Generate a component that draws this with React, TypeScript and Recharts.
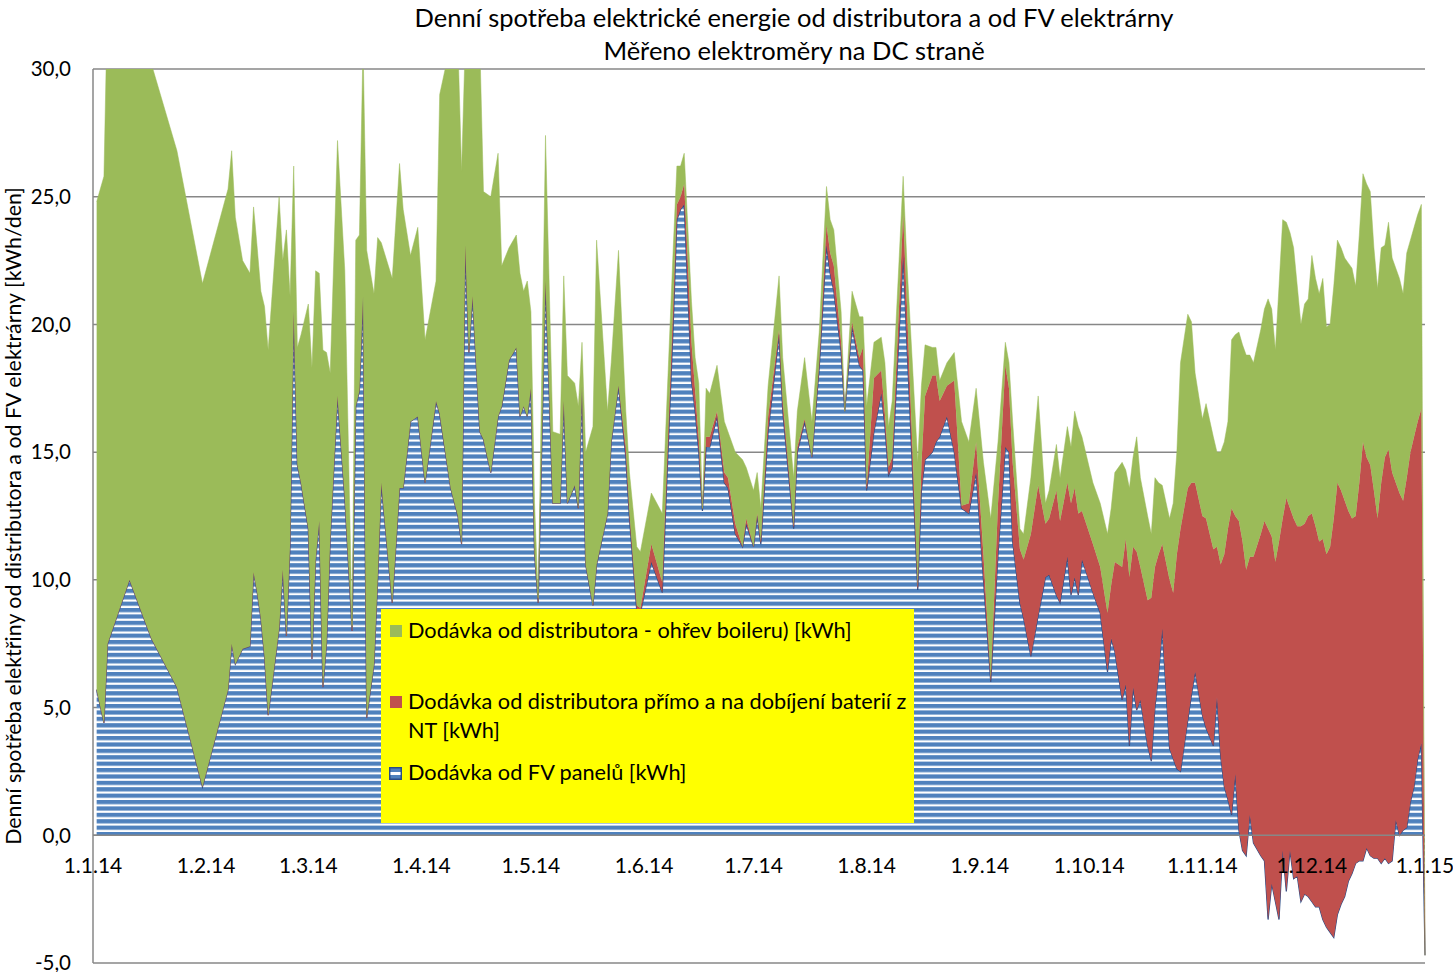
import { AreaChart, Area, XAxis, YAxis, CartesianGrid, ReferenceLine } from 'recharts'

// day index counted from 1.1.2014
const days = [
  1, 3, 4, 10, 16, 23, 30, 37, 38, 39, 41, 43, 44, 45, 46, 47, 48, 51, 52, 53, 54, 55, 56, 57, 59, 60, 61, 62, 63, 64, 65,
  67, 69, 71, 72, 73, 74, 75, 77, 78, 79,
  82, 84, 85, 87, 89, 91, 94, 95, 98, 100,
  101, 102, 103, 104, 106, 107, 109, 111, 112, 114,
  116, 117, 118, 119, 120, 121, 122, 124, 126, 128,
  129, 130, 132, 133, 134, 135, 137, 138, 141, 142,
  144, 146, 147, 149, 150, 153, 156, 159, 160, 161,
  162, 164, 165, 166, 167, 168, 169, 171, 173, 174,
  176, 178, 179, 181, 182, 183, 185, 188, 189, 192,
  193, 195, 197, 199, 201, 202, 203, 205, 206, 208,
  210, 211, 212, 214, 216, 217, 218, 219, 222, 223,
  226, 227, 228, 230, 231, 232, 234, 236, 238, 240,
  242, 244, 246, 248, 250, 251, 252,
  254, 255, 257, 259, 261, 262, 264, 265, 267, 268,
  269, 270, 271, 274, 276, 278, 279, 280, 282, 283,
  284, 285, 286, 287, 289, 290, 291, 292, 293, 295,
  296, 297, 298, 300, 301, 302, 304, 305, 307, 308,
  309, 310, 311, 312, 313, 314, 315, 316, 317, 318,
  320, 321, 322, 323, 324, 325, 326, 327, 328, 329,
  330, 331, 332, 333, 334, 335, 336, 337, 338, 339,
  340, 341, 342, 343, 344, 345, 346, 347, 348, 349,
  350, 351, 352, 353, 354, 355, 356, 357, 358, 359,
  360, 361, 362, 363, 364, 365,
]

// Dodávka od FV panelů [kWh]
const fvPanels = [
  5.7, 4.4, 7.5, 10.0, 7.7, 5.8, 1.9, 5.7, 7.5, 6.7, 7.3, 7.4, 10.3, 9.5, 8.5, 7.0, 4.7, 8.1, 10.4, 7.8, 11.4, 20.5, 14.5, 13.8, 12.0, 6.9, 10.8, 12.3, 5.8, 7.5, 11.6,
  17.2, 13.2, 8.0, 16.8, 17.4, 21.1, 4.6, 6.7, 10.0, 13.8,
  9.1, 13.6, 13.6, 16.2, 16.4, 13.8, 17.0, 16.5, 13.6, 12.5,
  11.4, 23.1, 18.9, 21.1, 15.8, 15.5, 14.2, 16.4, 16.8, 18.6,
  19.1, 16.4, 16.8, 16.4, 17.5, 11.0, 9.1, 21.7, 13.0, 13.0,
  17.0, 13.0, 13.7, 12.8, 17.6, 10.6, 9.0, 10.6, 12.6, 15.4,
  17.6, 14.8, 12.4, 8.8, 8.7, 10.7, 9.5, 20.0, 24.1, 24.5,
  24.7, 17.8, 16.6, 15.0, 12.7, 15.2, 15.2, 16.4, 13.8, 13.6,
  11.8, 11.3, 12.2, 11.3, 12.5, 11.4, 15.8, 19.6, 16.6, 12.0,
  15.0, 16.2, 14.8, 18.3, 23.1, 22.0, 21.3, 18.9, 16.6, 19.9,
  18.4, 18.2, 13.5, 15.8, 17.3, 16.0, 14.1, 14.4, 22.7, 19.3,
  9.6, 13.5, 14.7, 15.0, 15.4, 15.6, 16.4, 15.0, 12.8, 12.6,
  14.2, 10.0, 6.0, 11.0, 15.2, 15.0, 11.5,
  9.1, 8.5, 7.0, 8.6, 10.1, 10.2, 9.4, 9.1, 10.9, 9.4,
  10.1, 9.4, 10.8, 9.5, 8.7, 6.4, 7.7, 7.2, 5.3, 5.9,
  3.5, 5.8, 4.9, 5.3, 3.5, 2.9, 5.0, 6.3, 8.1, 3.4,
  3.0, 2.6, 2.5, 4.5, 5.5, 6.4, 4.7, 4.2, 3.5, 5.4,
  3.1, 1.9, 1.4, 0.8, 2.4, 0.2, -0.6, -0.8, 0.8, -0.3,
  -0.8, -1.0, -3.3, -1.9, -2.6, -3.3, -0.6, -2.2, -0.6, -1.7,
  -1.6, -2.6, -2.3, -2.4, -2.6, -2.8, -2.8, -3.3, -3.6, -3.8,
  -4.0, -3.1, -2.7, -2.4, -1.8, -1.5, -1.1, -1.0, -1.0, -0.5,
  -0.8, -0.9, -0.9, -1.1, -0.9, -1.1, -1.0, 0.6, 0.0, 0.2,
  0.3, 1.3, 1.9, 3.0, 3.6, -4.7,
]

// Dodávka od distributora přímo a na dobíjení baterií z NT [kWh]
const distribDirect = [
  0, 0, 0, 0, 0, 0, 0, 0, 0, 0, 0, 0, 0, 0, 0, 0, 0, 0, 0, 0, 0, 0, 0, 0, 0, 0, 0, 0, 0, 0, 0,
  0, 0, 0, 0, 0, 0, 0, 0, 0, 0,
  0, 0, 0, 0, 0, 0, 0, 0, 0, 0,
  0, 0, 0, 0, 0, 0, 0, 0, 0, 0,
  0, 0, 0, 0, 0, 0, 0, 0, 0, 0,
  0, 0, 0, 0, 0, 0, 0, 0, 0, 0,
  0, 0.4, 0.2, 0.2, 0.2, 0.7, 0.4, 0.8, 0.6, 0.5,
  0.8, 1.5, 0.8, 0.5, 0.1, 0.4, 0.4, 0.2, 0.4, 0.4,
  0.4, 0, 0.2, 0, 0.1, 0.1, 0.6, 0.2, 0.4, 0.1,
  0.2, 0.1, 0, 0.2, 0.8, 0.8, 1.0, 0.4, 0, 0.2,
  0.3, 0.9, 0.1, 2.1, 0.9, 0.5, 0.3, 0.4, 1.6, 1.6,
  0.1, 1.0, 2.5, 3.0, 2.6, 1.4, 1.2, 2.8, 0.1, 0.4,
  1.2, 1.0, 0.1, 2.0, 3.2, 2.5, 3.1,
  2.1, 2.3, 4.8, 5.1, 2.1, 2.2, 4.1, 3.2, 2.9, 3.6,
  3.5, 3.2, 1.9, 1.9, 1.8, 2.3, 2.1, 3.5, 5.2, 5.7,
  6.6, 5.5, 6.2, 5.2, 5.7, 6.4, 5.5, 4.7, 3.3, 6.6,
  6.5, 8.4, 9.5, 9.1, 8.3, 7.4, 7.8, 8.2, 7.7, 5.9,
  7.5, 9.1, 10.6, 12.0, 10.1, 12.1, 12.1, 11.2, 10.1, 11.2,
  12.6, 13.3, 15.3, 13.6, 13.3, 14.8, 13.0, 15.4, 13.4, 14.1,
  13.7, 14.7, 14.5, 14.9, 15.2, 14.9, 14.3, 14.9, 14.6, 15.1,
  16.4, 16.9, 16.2, 15.5, 14.5, 13.9, 13.6, 14.8, 16.4, 15.3,
  15.3, 14.4, 13.3, 14.9, 15.7, 16.2, 15.2, 13.2, 13.4, 12.9,
  13.7, 13.7, 13.7, 13.2, 13.1, 0,
]

// Dodávka od distributora - ohřev boileru) [kWh]
const distribBoiler = [
  19.1, 21.4, 25.5, 23.0, 22.5, 21.0, 19.7, 19.6, 19.3, 17.5, 15.2, 14.6, 14.3, 13.5, 12.8, 13.7, 14.3, 16.9, 12.1, 15.9, 9.7, 5.7, 4.6, 5.8, 8.8, 11.4, 11.3, 9.7, 13.2, 11.4, 6.5,
  10.0, 8.9, 0.2, 6.5, 6.1, 9.9, 18.3, 14.5, 13.4, 9.4,
  12.7, 12.7, 10.9, 6.5, 7.4, 5.6, 4.7, 12.5, 17.4, 18.5,
  14.6, 7.9, 12.1, 9.9, 15.2, 9.7, 10.8, 10.3, 5.5, 4.4,
  4.4, 5.6, 4.5, 5.3, 3.0, 2.0, 0.2, 5.7, 2.8, 2.7,
  4.9, 5.0, 4.0, 4.0, 1.7, 4.4, 7.0, 12.7, 4.0, 3.1,
  5.3, 1.4, 1.6, 2.3, 2.2, 2.0, 2.7, 2.2, 1.5, 1.2,
  1.2, 1.6, 1.3, 2.2, 0, 1.9, 1.7, 1.8, 2.0, 1.8,
  2.8, 3.4, 2.0, 2.2, 1.6, 1.3, 1.2, 2.1, 1.7, 1.9,
  1.4, 2.4, 1.4, 1.2, 1.5, 1.3, 1.4, 1.2, 0, 1.2,
  1.6, 1.2, 3.2, 1.4, 1.3, 2.0, 1.6, 2.2, 1.5, 1.6,
  4.9, 3.1, 2.0, 1.1, 1.1, 0.8, 0.9, 1.1, 3.3, 2.4,
  2.1, 3.6, 6.3, 2.4, 0.9, 1.0, 1.6,
  0.8, 1.0, 2.2, 3.5, 0.8, 1.1, 1.8, 1.7, 2.2, 2.2,
  3.0, 3.4, 2.9, 2.4, 2.5, 3.1, 3.0, 3.5, 4.1, 2.7,
  3.5, 3.5, 4.5, 3.5, 3.3, 2.5, 3.5, 2.8, 2.3, 2.4,
  3.5, 4.0, 6.5, 6.8, 6.3, 4.3, 3.8, 4.5, 4.4, 3.7,
  4.4, 4.4, 4.2, 6.6, 7.1, 7.4, 7.7, 8.4, 7.9, 7.6,
  8.0, 8.3, 9.0, 8.9, 8.3, 10.0, 11.7, 10.8, 10.8, 10.6,
  9.4, 7.9, 8.6, 8.5, 10.1, 9.7, 9.7, 10.2, 8.9, 8.7,
  9.1, 9.5, 9.5, 9.5, 9.7, 9.8, 9.0, 9.7, 10.5, 10.7,
  10.7, 9.5, 9.0, 9.2, 8.3, 8.9, 8.4, 8.4, 8.4, 8.1,
  8.8, 8.3, 8.2, 8.1, 8.0, 0,
]

const monthTicks = [0, 31, 59, 90, 120, 151, 181, 212, 243, 273, 304, 334, 365]
const monthLabels = ['1.1.14', '1.2.14', '1.3.14', '1.4.14', '1.5.14', '1.6.14', '1.7.14', '1.8.14', '1.9.14', '1.10.14', '1.11.14', '1.12.14', '1.1.15']
const yTicks = [-5, 0, 5, 10, 15, 20, 25, 30]

const titleLines = ['Denní spotřeba elektrické energie od distributora a od FV elektrárny', 'Měřeno elektroměry na DC straně']
const yTitle = 'Denní spotřeba elektřiny od distributora a od FV elektrárny [kWh/den]'
const legendGreen = 'Dodávka od distributora - ohřev boileru) [kWh]'
const legendRed = ['Dodávka od distributora přímo a na dobíjení baterií z', 'NT [kWh]']
const legendBlue = 'Dodávka od FV panelů [kWh]'

const W = 1453
const H = 972
const PLOT_TOP = 69
const PLOT_BOTTOM = 963
const X_AXIS_H = 20
const Y_MIN = -5
const Y_MAX = 30
const ZERO_Y = PLOT_TOP + ((PLOT_BOTTOM - PLOT_TOP) * Y_MAX) / (Y_MAX - Y_MIN)

const FONT = 'Lato, "Open Sans", sans-serif'
const GREEN = '#9BBB59'
const RED = '#C0504D'
const BLUE = '#4F81BD'
const BLUE_EDGE = '#2B4C86'
const GRID = '#878787'

const rows = days.map((day, i) => ({
  day,
  fv: fvPanels[i],
  direct: distribDirect[i],
  boiler: distribBoiler[i],
}))

// month labels sit just under the zero line, not at the bottom of the plot
const XTick = ({ x, payload }: any) => {
  const label = monthLabels[monthTicks.indexOf(payload.value)]
  return (
    <text x={x} y={ZERO_Y + 38} textAnchor="middle" fontSize={21} fontFamily={FONT} fill="#000">
      {label}
    </text>
  )
}

const StripeIcon = () => (
  <svg width={13} height={13} style={{ display: 'block' }}>
    <rect x={0.75} y={0.75} width={11.5} height={11.5} fill={BLUE} stroke={BLUE_EDGE} strokeWidth={1.5} />
    <rect x={1.5} y={5} width={10} height={3} fill="#fff" />
  </svg>
)

export default function App() {
  return (
    <div style={{ position: 'absolute', left: 0, top: 0, width: W, height: H, background: '#fff', fontFamily: FONT }}>
      <AreaChart
        width={W}
        height={H}
        data={rows}
        margin={{ top: PLOT_TOP, right: 28, bottom: H - PLOT_BOTTOM - X_AXIS_H, left: 33 }}
      >
        <defs>
          <pattern id="fvStripes" width={8} height={6.4} patternUnits="userSpaceOnUse">
            <rect width={8} height={6.4} fill="#ffffff" />
            <rect width={8} height={4.2} fill={BLUE} />
          </pattern>
        </defs>
        <CartesianGrid vertical={false} stroke={GRID} strokeWidth={1.5} />
        <XAxis
          dataKey="day"
          type="number"
          domain={[0, 365]}
          ticks={monthTicks}
          interval={0}
          height={X_AXIS_H}
          axisLine={false}
          tickLine={false}
          tick={<XTick />}
        />
        <YAxis
          type="number"
          domain={[Y_MIN, Y_MAX]}
          ticks={yTicks}
          interval={0}
          allowDataOverflow
          width={60}
          tickSize={0}
          tickMargin={22}
          tickLine={false}
          axisLine={{ stroke: GRID, strokeWidth: 1.5 }}
          tick={{ fontSize: 20.5, fill: '#000', fontFamily: FONT }}
          tickFormatter={(v: number) => v.toFixed(1).replace('.', ',')}
        />
        <Area
          type="linear"
          dataKey="fv"
          stackId="a"
          stroke={BLUE_EDGE}
          strokeWidth={1.2}
          fill="url(#fvStripes)"
          fillOpacity={1}
          dot={false}
          activeDot={false}
          isAnimationActive={false}
        />
        <Area
          type="linear"
          dataKey="direct"
          stackId="a"
          stroke={RED}
          strokeWidth={0.5}
          fill={RED}
          fillOpacity={1}
          dot={false}
          activeDot={false}
          isAnimationActive={false}
        />
        <Area
          type="linear"
          dataKey="boiler"
          stackId="a"
          stroke={GREEN}
          strokeWidth={0.5}
          fill={GREEN}
          fillOpacity={1}
          dot={false}
          activeDot={false}
          isAnimationActive={false}
        />
        <ReferenceLine y={0} stroke={GRID} strokeWidth={1.5} />
      </AreaChart>

      <div
        style={{
          position: 'absolute',
          left: 344,
          width: 900,
          top: 1,
          textAlign: 'center',
          fontSize: 25.5,
          lineHeight: '33px',
          color: '#000',
        }}
      >
        {titleLines.map((t) => (
          <div key={t}>{t}</div>
        ))}
      </div>

      <div
        style={{
          position: 'absolute',
          left: 13 - 400,
          top: 516 - 14,
          width: 800,
          height: 28,
          lineHeight: '28px',
          textAlign: 'center',
          fontSize: 21.4,
          whiteSpace: 'nowrap',
          transform: 'rotate(-90deg)',
          transformOrigin: 'center',
          color: '#000',
        }}
      >
        {yTitle}
      </div>

      <div
        style={{
          position: 'absolute',
          left: 381,
          top: 609,
          width: 533,
          height: 214,
          background: '#FFFF00',
          fontSize: 21.7,
          color: '#000',
        }}
      >
        <div style={{ position: 'absolute', left: 9, top: 16, width: 12, height: 12, background: GREEN }} />
        <div style={{ position: 'absolute', left: 27, top: 7, lineHeight: '29px', whiteSpace: 'nowrap' }}>{legendGreen}</div>
        <div style={{ position: 'absolute', left: 9, top: 87, width: 12, height: 12, background: RED }} />
        <div style={{ position: 'absolute', left: 27, top: 78, lineHeight: '29px', whiteSpace: 'nowrap' }}>
          {legendRed.map((t) => (
            <div key={t}>{t}</div>
          ))}
        </div>
        <div style={{ position: 'absolute', left: 8, top: 158 }}>
          <StripeIcon />
        </div>
        <div style={{ position: 'absolute', left: 27, top: 149, lineHeight: '29px', whiteSpace: 'nowrap' }}>{legendBlue}</div>
      </div>
    </div>
  )
}
